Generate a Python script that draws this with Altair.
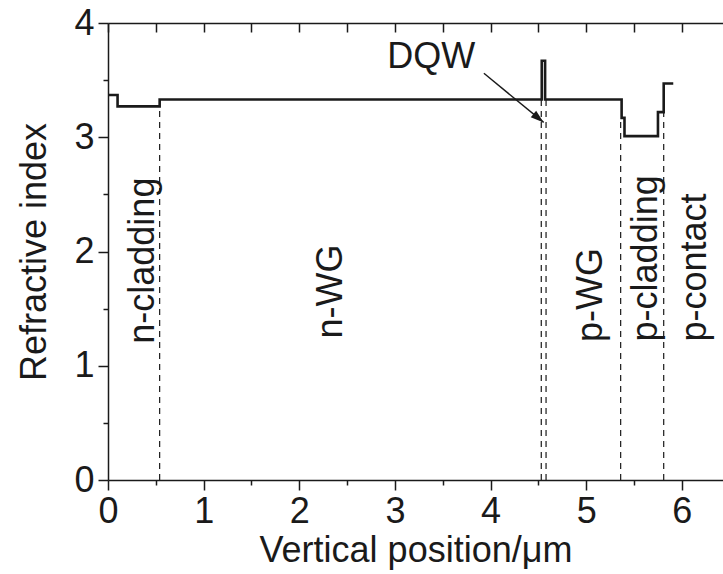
import math
import altair as alt
import pandas as pd

# Layer stack: start position (µm) and refractive index of each layer
layer_start = [0.00, 0.10, 0.54, 4.535, 4.57, 5.37, 5.40, 5.75, 5.81]
layer_index = [3.37, 3.27, 3.33, 3.67, 3.33, 3.17, 3.01, 3.22, 3.47]
stack_end = 5.91

# Region boundaries (dashed) and the index they reach up to
boundary_x = [0.54, 4.53, 4.58, 5.36, 5.81]
boundary_top = [3.33, 3.33, 3.33, 3.17, 3.22]

# Region labels
region_names = ["n-cladding", "n-WG", "p-WG", "p-cladding", "p-contact"]
region_x = [0.37, 2.33, 5.05, 5.63, 6.14]
region_y = [1.92, 1.65, 1.62, 1.94, 1.86]

# DQW callout
dqw_label = "DQW"
dqw_text_xy = (3.38, 3.70)
arrow_from = (3.93, 3.56)
arrow_to = (4.555, 3.13)

x_ticks = [i * 0.5 for i in range(13)]
y_ticks = [i * 0.5 for i in range(9)]

X_MAX = 6.43
W, H = 615, 457
FONT = "Liberation Sans"

profile = pd.DataFrame({
    "x": layer_start + [stack_end],
    "n": layer_index + [layer_index[-1]],
})
bounds = pd.DataFrame({"x": boundary_x, "bottom": [0.0] * len(boundary_x), "top": boundary_top})
regions = pd.DataFrame({"name": region_names, "x": region_x, "y": region_y})
dqw = pd.DataFrame({"name": [dqw_label], "x": [dqw_text_xy[0]], "y": [dqw_text_xy[1]]})
arrow = pd.DataFrame({"x": [arrow_from[0]], "y": [arrow_from[1]],
                      "x2": [arrow_to[0]], "y2": [arrow_to[1]]})
head_angle = math.degrees(math.atan2((arrow_from[1] - arrow_to[1]) * H / 4,
                                     (arrow_to[0] - arrow_from[0]) * W / X_MAX))
head = pd.DataFrame({"x": [arrow_to[0]], "y": [arrow_to[1]]})

xscale = alt.Scale(domain=[0, X_MAX], nice=False, zero=False)
yscale = alt.Scale(domain=[0, 4], nice=False)

major_cond = {"condition": {"test": "datum.value % 1 === 0", "value": 10}, "value": 5}
int_labels = "datum.value % 1 === 0 ? format(datum.value, 'd') : ''"

x_bottom = alt.Axis(values=x_ticks, title="Vertical position/μm", labelExpr=int_labels,
                    tickSize=major_cond, labelPadding=4, titlePadding=4,
                    labelFlush=False, grid=False)
y_left = alt.Axis(values=y_ticks, title="Refractive index", labelExpr=int_labels,
                  tickSize=major_cond, labelPadding=4, titlePadding=20,
                  labelFlush=False, grid=False)
x_top = alt.Axis(orient="top", values=x_ticks, title=None, labels=False,
                 tickSize={"expr": "-9"}, grid=False)

line = alt.Chart(profile).mark_line(
    interpolate="step-after", color="#1a1a1a", strokeWidth=2.6
).encode(
    x=alt.X("x:Q", scale=xscale, axis=x_bottom),
    y=alt.Y("n:Q", scale=yscale, axis=y_left),
)

dashed = alt.Chart(bounds).mark_rule(
    color="#1a1a1a", strokeWidth=1.2, strokeDash=[6, 5]
).encode(
    x=alt.X("x:Q", scale=xscale, axis=None),
    y=alt.Y("bottom:Q", scale=yscale, axis=None),
    y2="top:Q",
)

labels = alt.Chart(regions).mark_text(
    angle=270, align="center", baseline="middle", fontSize=36, font=FONT, color="#1a1a1a"
).encode(
    x=alt.X("x:Q", scale=xscale, axis=x_top),
    y=alt.Y("y:Q", scale=yscale, axis=None),
    text="name:N",
)

dqw_text = alt.Chart(dqw).mark_text(
    align="center", baseline="middle", fontSize=36, font=FONT, color="#1a1a1a"
).encode(
    x=alt.X("x:Q", scale=xscale, axis=None),
    y=alt.Y("y:Q", scale=yscale, axis=None),
    text="name:N",
)

arrow_line = alt.Chart(arrow).mark_rule(color="#1a1a1a", strokeWidth=1.4).encode(
    x=alt.X("x:Q", scale=xscale, axis=None),
    y=alt.Y("y:Q", scale=yscale, axis=None),
    x2="x2:Q",
    y2="y2:Q",
)

arrow_head = alt.Chart(head).mark_point(
    shape="M0,0L-1,-0.32L-1,0.32Z", filled=True, color="#1a1a1a", opacity=1,
    size=700, angle=head_angle,
).encode(
    x=alt.X("x:Q", scale=xscale, axis=None),
    y=alt.Y("y:Q", scale=yscale, axis=None),
)

chart = alt.layer(
    dashed, line, labels, dqw_text, arrow_line, arrow_head
).resolve_axis(x="independent", y="independent").properties(
    width=W, height=H,
    autosize=alt.AutoSizeParams(type="none"),
    padding={"left": 108, "top": 23, "right": 0, "bottom": 94},
).configure_view(
    stroke=None
).configure_axis(
    domainColor="#1a1a1a", domainWidth=1.5, tickColor="#1a1a1a", tickWidth=1.5,
    labelColor="#1a1a1a", titleColor="#1a1a1a",
    labelFont=FONT, titleFont=FONT, labelFontSize=36, titleFontSize=36,
    titleFontWeight="normal",
)

chart.save("out.html", embed_options={"renderer": "svg", "actions": False})
